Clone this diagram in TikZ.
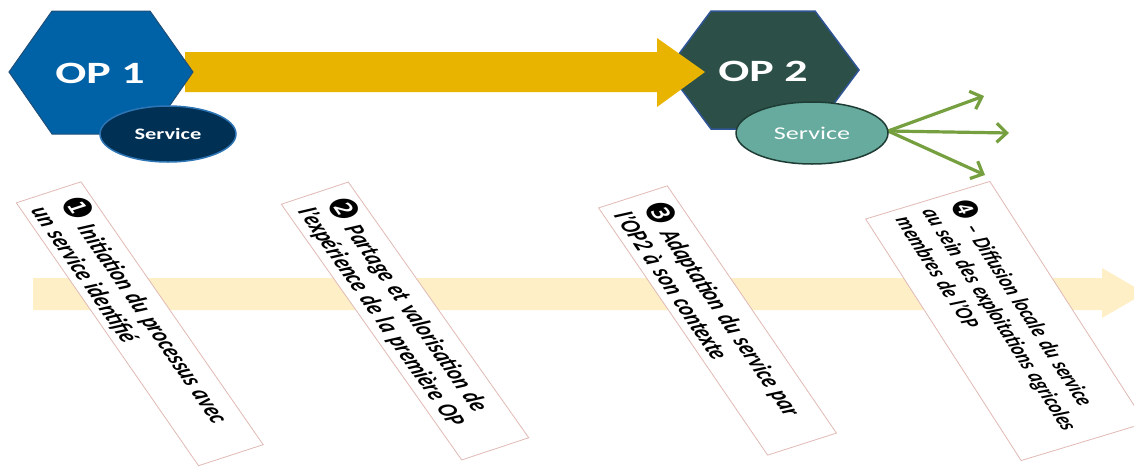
\documentclass[tikz,border=0pt]{standalone}
\usepackage{fontspec}
\usepackage{graphicx}
\setmainfont{Carlito}
\newfontfamily\dingfont{DejaVu Sans}
\usetikzlibrary{arrows.meta,shapes.geometric}

\definecolor{opone}{RGB}{0,98,166}
\definecolor{oponeline}{RGB}{31,78,121}
\definecolor{svcone}{RGB}{0,48,84}
\definecolor{svconeline}{RGB}{46,117,182}
\definecolor{optwo}{RGB}{44,80,72}
\definecolor{optwoline}{RGB}{47,85,151}
\definecolor{svctwo}{RGB}{103,171,158}
\definecolor{svctwoline}{RGB}{30,60,52}
\definecolor{flow}{RGB}{232,180,0}
\definecolor{spread}{RGB}{118,160,64}
\definecolor{timeline}{RGB}{254,239,198}
\definecolor{boxline}{RGB}{225,185,180}

% black circled step number
\newcommand{\stepnum}[1]{{\dingfont\upshape\mdseries\scalebox{1.4}{#1}}}

\begin{document}
\begin{tikzpicture}[x=1pt,y=-1pt,
  stepbox/.style={draw=boxline, line width=0.8pt, fill=white, inner xsep=11pt,
    align=left, font=\fontsize{18.5}{21}\selectfont\bfseries\itshape, transform shape},
  optext/.style={text=white, font=\fontsize{31}{31}\selectfont\bfseries},
  svcnode/.style={ellipse, line width=1.5pt, text=white, inner sep=0pt},
  spreadarrow/.style={draw=spread, line width=3.2pt,
    -{Straight Barb[length=10pt,width=19pt,line width=3.2pt]}}
]
\useasboundingbox (0,0) rectangle (1134,466);

% faded timeline arrow running under the steps
\fill[timeline] (33,278) -- (1102,278) -- (1102,268) -- (1145,293)
  -- (1102,318) -- (1102,310) -- (33,310) -- cycle;

% the four tilted step labels
\begin{scope}[shift={(139.75,323.75)}]
  \node[stepbox, xscale=1.46, rotate=-64.6, minimum width=291pt, minimum height=49pt,
    text width=269pt] (s1) at (0,0)
    {\mbox{\stepnum{❶} Initiation du processus avec}\\\mbox{un service identifié}};
\end{scope}
\begin{scope}[shift={(405,321)}]
  \node[stepbox, xscale=1.46, rotate=-64.2, minimum width=284pt, minimum height=51pt,
    text width=262pt] (s2) at (0,0)
    {\mbox{\stepnum{❷} Partage et valorisation de}\\\mbox{l’expérience de la première OP}};
\end{scope}
\begin{scope}[shift={(717.5,320.5)}]
  \node[stepbox, xscale=1.46, rotate=-64.9, minimum width=273pt, minimum height=52pt,
    text width=251pt] (s3) at (0,0)
    {\mbox{\stepnum{❸} Adaptation du service par}\\\mbox{l’OP2 à son contexte}};
\end{scope}
\begin{scope}[shift={(1005.5,321)}]
  \node[stepbox, xscale=1.46, rotate=-66.2, minimum width=264pt, minimum height=93pt,
    text width=246pt, inner xsep=9pt, font=\fontsize{16.5}{20}\selectfont\bfseries\itshape] (s4) at (0,0)
    {\mbox{\stepnum{❹} – Diffusion locale du service}\\\mbox{au sein des exploitations agricoles}\\\mbox{membres de l’OP}};
\end{scope}

% second organisation
\filldraw[fill=optwo, draw=optwoline, line width=1.5pt]
  (667,70) -- (711,11) -- (815,11) -- (859,70) -- (815,129) -- (711,129) -- cycle;
\node[optext] (op2) at (763,71) {\scalebox{1.48}[1]{OP 2}};

% transfer arrow from OP 1 to OP 2
\fill[flow] (185,52) -- (657,52) -- (657,38) -- (705,72) -- (657,107)
  -- (657,92) -- (185,92) -- cycle;

% first organisation
\filldraw[fill=opone, draw=oponeline, line width=1pt]
  (9,72) -- (52,11) -- (150,11) -- (193,72) -- (150,134) -- (52,134) -- cycle;
\node[optext] (op1) at (100,73) {\scalebox{1.48}[1]{OP 1}};

% services
\node[svcnode, fill=svcone, draw=svconeline, minimum width=136pt, minimum height=56pt,
  font=\fontsize{16}{16}\selectfont\bfseries] (svc1) at (168,134)
  {\scalebox{1.4}[1]{Service}};

\coordinate (g1) at (984,96);
\coordinate (g2) at (1009,133);
\coordinate (g3) at (985,175);
\draw[spreadarrow] (888,131) coordinate (gs) -- (g1);
\draw[spreadarrow] (gs) -- (g2);
\draw[spreadarrow] (gs) -- (g3);

\node[svcnode, fill=svctwo, draw=svctwoline, minimum width=152pt, minimum height=62pt,
  font=\fontsize{18}{18}\selectfont] (svc2) at (812,133)
  {\scalebox{1.45}[1]{Service}};
\end{tikzpicture}
\end{document}
